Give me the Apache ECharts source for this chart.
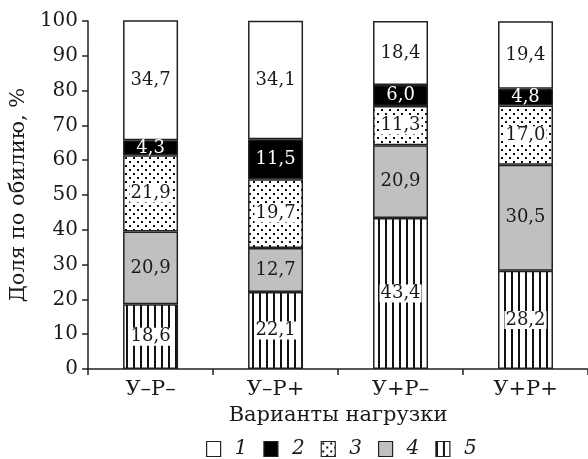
<!DOCTYPE html>
<html>
<head>
<meta charset="utf-8">
<script src="https://cdn.jsdelivr.net/npm/echarts@6/dist/echarts.min.js"></script>
<style>html,body{margin:0;padding:0;background:#fff}#c{width:588px;height:459px}</style>
</head>
<body>
<div id="c"></div>
<script>
var categories = ['У–Р–', 'У–Р+', 'У+Р–', 'У+Р+'];
var seriesNames = ['1', '2', '3', '4', '5'];
var s1 = [34.7, 34.1, 18.4, 19.4];
var s2 = [4.3, 11.5, 6.0, 4.8];
var s3 = [21.9, 19.7, 11.3, 17.0];
var s4 = [20.9, 12.7, 20.9, 30.5];
var s5 = [18.6, 22.1, 43.4, 28.2];
var yTicks = [0, 10, 20, 30, 40, 50, 60, 70, 80, 90, 100];

var FONT = 'DejaVu Serif';

function makeStripes() {
  var c = document.createElement('canvas');
  c.width = 7; c.height = 7;
  var g = c.getContext('2d');
  g.fillStyle = '#fff'; g.fillRect(0, 0, 7, 7);
  g.fillStyle = '#111'; g.fillRect(0, 0, 2, 7);
  return c;
}
function makeDots() {
  var c = document.createElement('canvas');
  c.width = 8; c.height = 8;
  var g = c.getContext('2d');
  g.fillStyle = '#fff'; g.fillRect(0, 0, 8, 8);
  g.fillStyle = '#111';
  g.fillRect(1, 1, 2, 2);
  g.fillRect(5, 5, 2, 2);
  return c;
}

var fills = {
  '1': '#ffffff',
  '2': '#000000',
  '3': { image: makeDots(), repeat: 'repeat' },
  '4': '#c0c0c0',
  '5': { image: makeStripes(), repeat: 'repeat' }
};
var dataMap = { '1': s1, '2': s2, '3': s3, '4': s4, '5': s5 };

function fmt(p) { return p.value.toFixed(1).replace('.', ','); }

function mkSeries(name) {
  var lbl = {
    show: true, position: 'inside', formatter: fmt,
    fontFamily: FONT, fontSize: 18, color: '#1a1a1a'
  };
  if (name === '2') { lbl.color = '#fff'; }
  if (name === '3' || name === '5') {
    lbl.backgroundColor = '#fff';
    lbl.padding = [0, 1, 0, 1];
    lbl.lineHeight = 18;
  }
  return {
    name: name, type: 'bar', stack: 'total', barWidth: 55,
    data: dataMap[name],
    itemStyle: { color: fills[name], borderColor: '#222', borderWidth: 1.5 },
    label: lbl,
    emphasis: { disabled: true }
  };
}

var chart = echarts.init(document.getElementById('c'), null, { renderer: 'canvas' });
chart.setOption({
  animation: false,
  backgroundColor: '#fff',
  grid: { left: 84, right: -5, top: 21, bottom: 90 },
  legend: {
    data: seriesNames,
    top: 434, left: 201,
    icon: 'rect',
    itemWidth: 14, itemHeight: 15, itemGap: 16,
    textStyle: { fontFamily: FONT, fontStyle: 'italic', fontSize: 20, color: '#1a1a1a', padding: [0, 0, 0, 9] },
    itemStyle: { borderColor: '#222', borderWidth: 1.2 }
  },
  xAxis: {
    type: 'category', data: categories,
    name: 'Варианты нагрузки', nameLocation: 'middle', nameGap: 34,
    nameTextStyle: { fontFamily: FONT, fontSize: 21, color: '#1a1a1a' },
    axisLine: { lineStyle: { color: '#222', width: 1.5 } },
    axisTick: { show: true, length: 6, lineStyle: { color: '#222', width: 1.5 } },
    axisLabel: { fontFamily: FONT, fontSize: 21, color: '#1a1a1a', margin: 10 }
  },
  yAxis: {
    type: 'value', min: 0, max: 100, interval: 10,
    name: 'Доля по обилию, %', nameLocation: 'middle', nameGap: 42, nameRotate: 90,
    nameTextStyle: { fontFamily: FONT, fontSize: 21, color: '#1a1a1a' },
    axisLine: { show: true, lineStyle: { color: '#222', width: 1.5 } },
    axisTick: { show: true, length: 6, lineStyle: { color: '#222', width: 1.5 } },
    splitLine: { show: false },
    axisLabel: {
      fontFamily: FONT, fontSize: 20, color: '#1a1a1a', margin: 10,
      formatter: function (v) { return yTicks.indexOf(v) >= 0 ? String(v) : ''; }
    }
  },
  series: ['5', '4', '3', '2', '1'].map(mkSeries)
});
</script>
</body>
</html>
